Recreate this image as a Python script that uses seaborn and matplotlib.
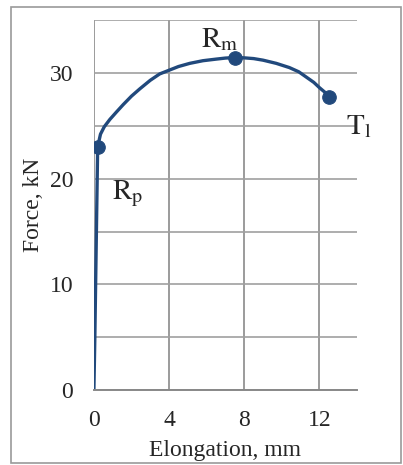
import numpy as np
import pandas as pd
import matplotlib
matplotlib.use("Agg")
import matplotlib.pyplot as plt
import seaborn as sns
from matplotlib.patches import Rectangle

# curve
elongation = [0.0, 0.05, 0.1, 0.15, 0.2, 0.35, 0.55, 0.85, 1.2, 1.56, 2.0, 2.45, 3.0, 3.5, 4.0,
              4.5, 5.1, 5.8, 6.5, 7.0, 7.5, 8.0, 8.5, 9.0, 9.7, 10.4, 10.9, 11.3, 11.7, 12.0, 12.3, 12.5]
force = [0.0, 5.0, 11.0, 17.0, 23.0, 24.2, 24.9, 25.6, 26.3, 27.0, 27.8, 28.5, 29.3, 29.9, 30.25,
         30.6, 30.9, 31.15, 31.3, 31.4, 31.45, 31.42, 31.35, 31.2, 30.9, 30.5, 30.1, 29.6, 29.1, 28.6, 28.15, 27.7]

# marked points
point_names = [r"$\mathrm{R_p}$", r"$\mathrm{R_m}$", r"$\mathrm{T_l}$"]
point_x = [0.2, 7.5, 12.5]
point_y = [23.0, 31.45, 27.7]
label_x = [1.8, 6.7, 14.1]
label_y = [18.6, 33.1, 24.9]

df = pd.DataFrame({"x": elongation, "y": force})
pts = pd.DataFrame({"x": point_x, "y": point_y})

sns.set_style("white")
plt.rcParams["font.family"] = ["Liberation Serif", "DejaVu Serif"]
plt.rcParams["mathtext.fontset"] = "stix"

col = "#21497c"
fig = plt.figure(figsize=(4.03, 4.65), dpi=100)
ax = fig.add_axes([0.233, 0.161, 0.653, 0.796])

sns.lineplot(data=df, x="x", y="y", sort=False, color=col, linewidth=2.4, ax=ax)
sns.scatterplot(data=pts, x="x", y="y", color=col, s=95, edgecolor=col, zorder=5, ax=ax)

for name, tx, ty in zip(point_names, label_x, label_y):
    ax.text(tx, ty, name, fontsize=21, ha="center", va="center")

ax.set_xlim(0, 14)
ax.set_ylim(0, 35)
ax.set_xticks([0, 4, 8, 12])
ax.set_yticks([0, 10, 20, 30])
ax.set_yticks([5, 15, 25, 35], minor=True)
ax.grid(True, which="both", axis="y", color="#a0a0a0", linewidth=1.2)
ax.grid(True, which="major", axis="x", color="#8a8a8a", linewidth=1.2)
ax.tick_params(which="both", length=0, labelsize=17)
ax.tick_params(axis="y", pad=15)
ax.tick_params(axis="x", pad=14)
for s in ["top", "right", "left"]:
    ax.spines[s].set_visible(False)
ax.spines["bottom"].set_color("#888888")
ax.spines["bottom"].set_linewidth(1.4)
ax.set_xlabel("Elongation, mm", fontsize=17, labelpad=7)
ax.set_ylabel("Force, kN", fontsize=17, labelpad=4)

fig.patches.append(Rectangle((11 / 403, 2 / 465), 390 / 403, 456 / 465, transform=fig.transFigure,
                             fill=False, edgecolor="#9a9a9a", linewidth=1.2))

fig.savefig("out.png", dpi=100)
